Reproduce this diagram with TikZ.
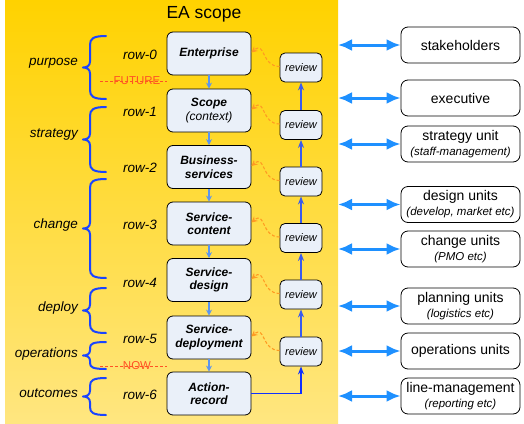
\documentclass[tikz,border=0pt]{standalone}
\usepackage{fontspec}
\setmainfont{Liberation Sans}
\usetikzlibrary{arrows.meta,calc}
\definecolor{goldtop}{HTML}{FFD200}
\definecolor{goldbot}{HTML}{FFE680}
\definecolor{boxfill}{HTML}{EAF0F9}
\definecolor{bracecol}{HTML}{1A44FF}
\definecolor{revblue}{HTML}{3A5BEE}
\definecolor{actblue}{HTML}{1030FF}
\definecolor{downblue}{HTML}{5C95EE}
\definecolor{dblblue}{HTML}{1E90FF}
\definecolor{dashorange}{HTML}{FF9A22}
\definecolor{timered}{HTML}{FF5224}
\newcommand{\curlybrace}[2]{%
  \pgfmathsetmacro{\bT}{#1}%
  \pgfmathsetmacro{\bB}{#2}%
  \pgfmathsetmacro{\bM}{(\bT+\bB)/2}%
  \pgfmathsetmacro{\bR}{min(9,(\bM-\bT)/2.3)}%
  \pgfmathsetmacro{\bQ}{min(6,(\bM-\bT)/2.6)}%
  \draw[bracestyle] (106,\bT) .. controls (93,\bT) and (90,\bT+0.3*\bR) .. (90,\bT+\bR)
    -- (90,\bM-\bQ) .. controls (90,\bM-0.3*\bQ) and (87,\bM) .. (83,\bM)
    .. controls (87,\bM) and (90,\bM+0.3*\bQ) .. (90,\bM+\bQ)
    -- (90,\bB-\bR) .. controls (90,\bB-0.3*\bR) and (93,\bB) .. (106,\bB);}
\begin{document}
\begin{tikzpicture}[x=1pt,y=-1pt,
  mainbox/.style={draw=black, line width=0.8pt, fill=boxfill, rounded corners=6pt,
    minimum width=84pt, minimum height=43pt, align=center, inner sep=1pt,
    font=\fontsize{12}{13.5}\selectfont\bfseries\itshape},
  revbox/.style={draw=black, line width=0.8pt, fill=boxfill, rounded corners=5pt,
    minimum width=42pt, minimum height=29pt, inner sep=1pt,
    font=\fontsize{11}{12}\selectfont\itshape},
  sidebox/.style={draw=black, line width=0.8pt, fill=white, rounded corners=7pt,
    minimum width=119pt, minimum height=36pt, align=center, inner sep=1pt,
    font=\fontsize{14}{15}\selectfont},
  lbl/.style={anchor=east, font=\fontsize{13.5}{15}\selectfont\itshape, inner sep=0pt},
  rowlbl/.style={anchor=east, font=\fontsize{13.5}{15}\selectfont\itshape, inner sep=0pt},
  bracestyle/.style={draw=bracecol, line width=2pt, line cap=round, line join=round},
  downarr/.style={draw=downblue, line width=1.6pt, -{Stealth[length=6pt,width=6pt]}},
  revarr/.style={draw=revblue, line width=1.6pt, -{Stealth[length=8pt,width=6pt]}},
  actarr/.style={draw=actblue, line width=1.4pt, -{Stealth[length=8pt,width=6pt]}},
  fbarr/.style={draw=dashorange, line width=1.1pt, dash pattern=on 3pt off 2pt,
    -{Stealth[length=6pt,width=6pt]}},
  dblarr/.style={draw=dblblue, line width=3pt,
    {Latex[length=14pt,width=12pt]}-{Latex[length=14pt,width=12pt]}},
  timeline/.style={draw=timered, line width=1pt, dash pattern=on 3pt off 2pt},
  timetext/.style={text=timered, font=\fontsize{11.5}{12}\selectfont, inner sep=0pt}
]
\useasboundingbox (0,0) rectangle (524,423);
\shade[top color=goldtop, bottom color=goldbot] (5,0) rectangle (338,423);

\node[font=\fontsize{17.5}{19}\selectfont] (title) at (204,14) {EA scope};

% main column
\node[mainbox] (m0) at (209,53.5) {Enterprise};
\node[mainbox] (m1) at (209,110.5) {Scope\\{\mdseries (context)}};
\node[mainbox] (m2) at (209,167) {Business-\\services};
\node[mainbox] (m3) at (209,223.5) {Service-\\content};
\node[mainbox] (m4) at (209,280) {Service-\\design};
\node[mainbox] (m5) at (209,337.5) {Service-\\deployment};
\node[mainbox] (m6) at (209,393.5) {Action-\\record};

\foreach \a/\b in {m0/m1,m1/m2,m2/m3,m3/m4,m4/m5,m5/m6}
  \draw[downarr] (\a.south) -- (\b.north);

% reviews
\node[revbox] (r0) at (301,67.5) {review};
\node[revbox] (r1) at (301,125) {review};
\node[revbox] (r2) at (301,181.5) {review};
\node[revbox] (r3) at (301,238) {review};
\node[revbox] (r4) at (301,294.5) {review};
\node[revbox] (r5) at (301,351.5) {review};

\foreach \a/\b in {r1/r0,r2/r1,r3/r2,r4/r3,r5/r4}
  \draw[revarr] (\a.north) -- (\b.south);
\draw[actarr] (m6.east) -| (r5.south);

\foreach \i in {0,...,5}
  \draw[fbarr] ([yshift=1pt]r\i.west) to[out=180,in=40,looseness=1.5] ([yshift=1pt]m\i.east);

% row labels
\node[rowlbl] (l0) at (157,55) {row-0};
\node[rowlbl] (l1) at (157,112) {row-1};
\node[rowlbl] (l2) at (157,168) {row-2};
\node[rowlbl] (l3) at (157,225) {row-3};
\node[rowlbl] (l4) at (157,283) {row-4};
\node[rowlbl] (l5) at (157,339) {row-5};
\node[rowlbl] (l6) at (157,395) {row-6};

% braces
\curlybrace{36}{99}
\curlybrace{107}{172}
\curlybrace{179}{278}
\curlybrace{288}{333}
\curlybrace{342}{369}
\curlybrace{378}{415}

\node[lbl] (purpose) at (78,63) {purpose};
\node[lbl] (strategy) at (78,135) {strategy};
\node[lbl] (change) at (78,225) {change};
\node[lbl] (deploy) at (78,308) {deploy};
\node[lbl] (operations) at (78,354) {operations};
\node[lbl] (outcomes) at (78,393) {outcomes};

% future / now
\coordinate (fs) at (100,81);
\coordinate (ns) at (100,366);
\node[timetext] (future) at (137,81) {FUTURE};
\node[timetext] (now) at (137,366) {NOW};
\draw[timeline] (fs) -- (fs -| m0.west);
\draw[timeline] (ns) -- (ns -| m0.west);

% right side
\node[sidebox] (s0) at (460.5,45) {stakeholders};
\node[sidebox] (s1) at (460.5,98) {executive};
\node[sidebox] (s2) at (460.5,144) {strategy unit\\{\fontsize{11.5}{12}\selectfont\itshape (staff-management)}};
\node[sidebox] (s3) at (460.5,204.5) {design units\\{\fontsize{11.5}{12}\selectfont\itshape (develop, market etc)}};
\node[sidebox] (s4) at (460.5,249) {change units\\{\fontsize{11.5}{12}\selectfont\itshape (PMO etc)}};
\node[sidebox] (s5) at (460.5,306) {planning units\\{\fontsize{11.5}{12}\selectfont\itshape (logistics etc)}};
\node[sidebox] (s6) at (460.5,351) {operations units};
\node[sidebox] (s7) at (460.5,396) {line-management\\{\fontsize{11.5}{12}\selectfont\itshape (reporting etc)}};

\coordinate (edge) at (338,0);
\foreach \i in {0,...,7}
  \draw[dblarr] (edge |- s\i.west) -- (s\i.west);
\end{tikzpicture}
\end{document}
